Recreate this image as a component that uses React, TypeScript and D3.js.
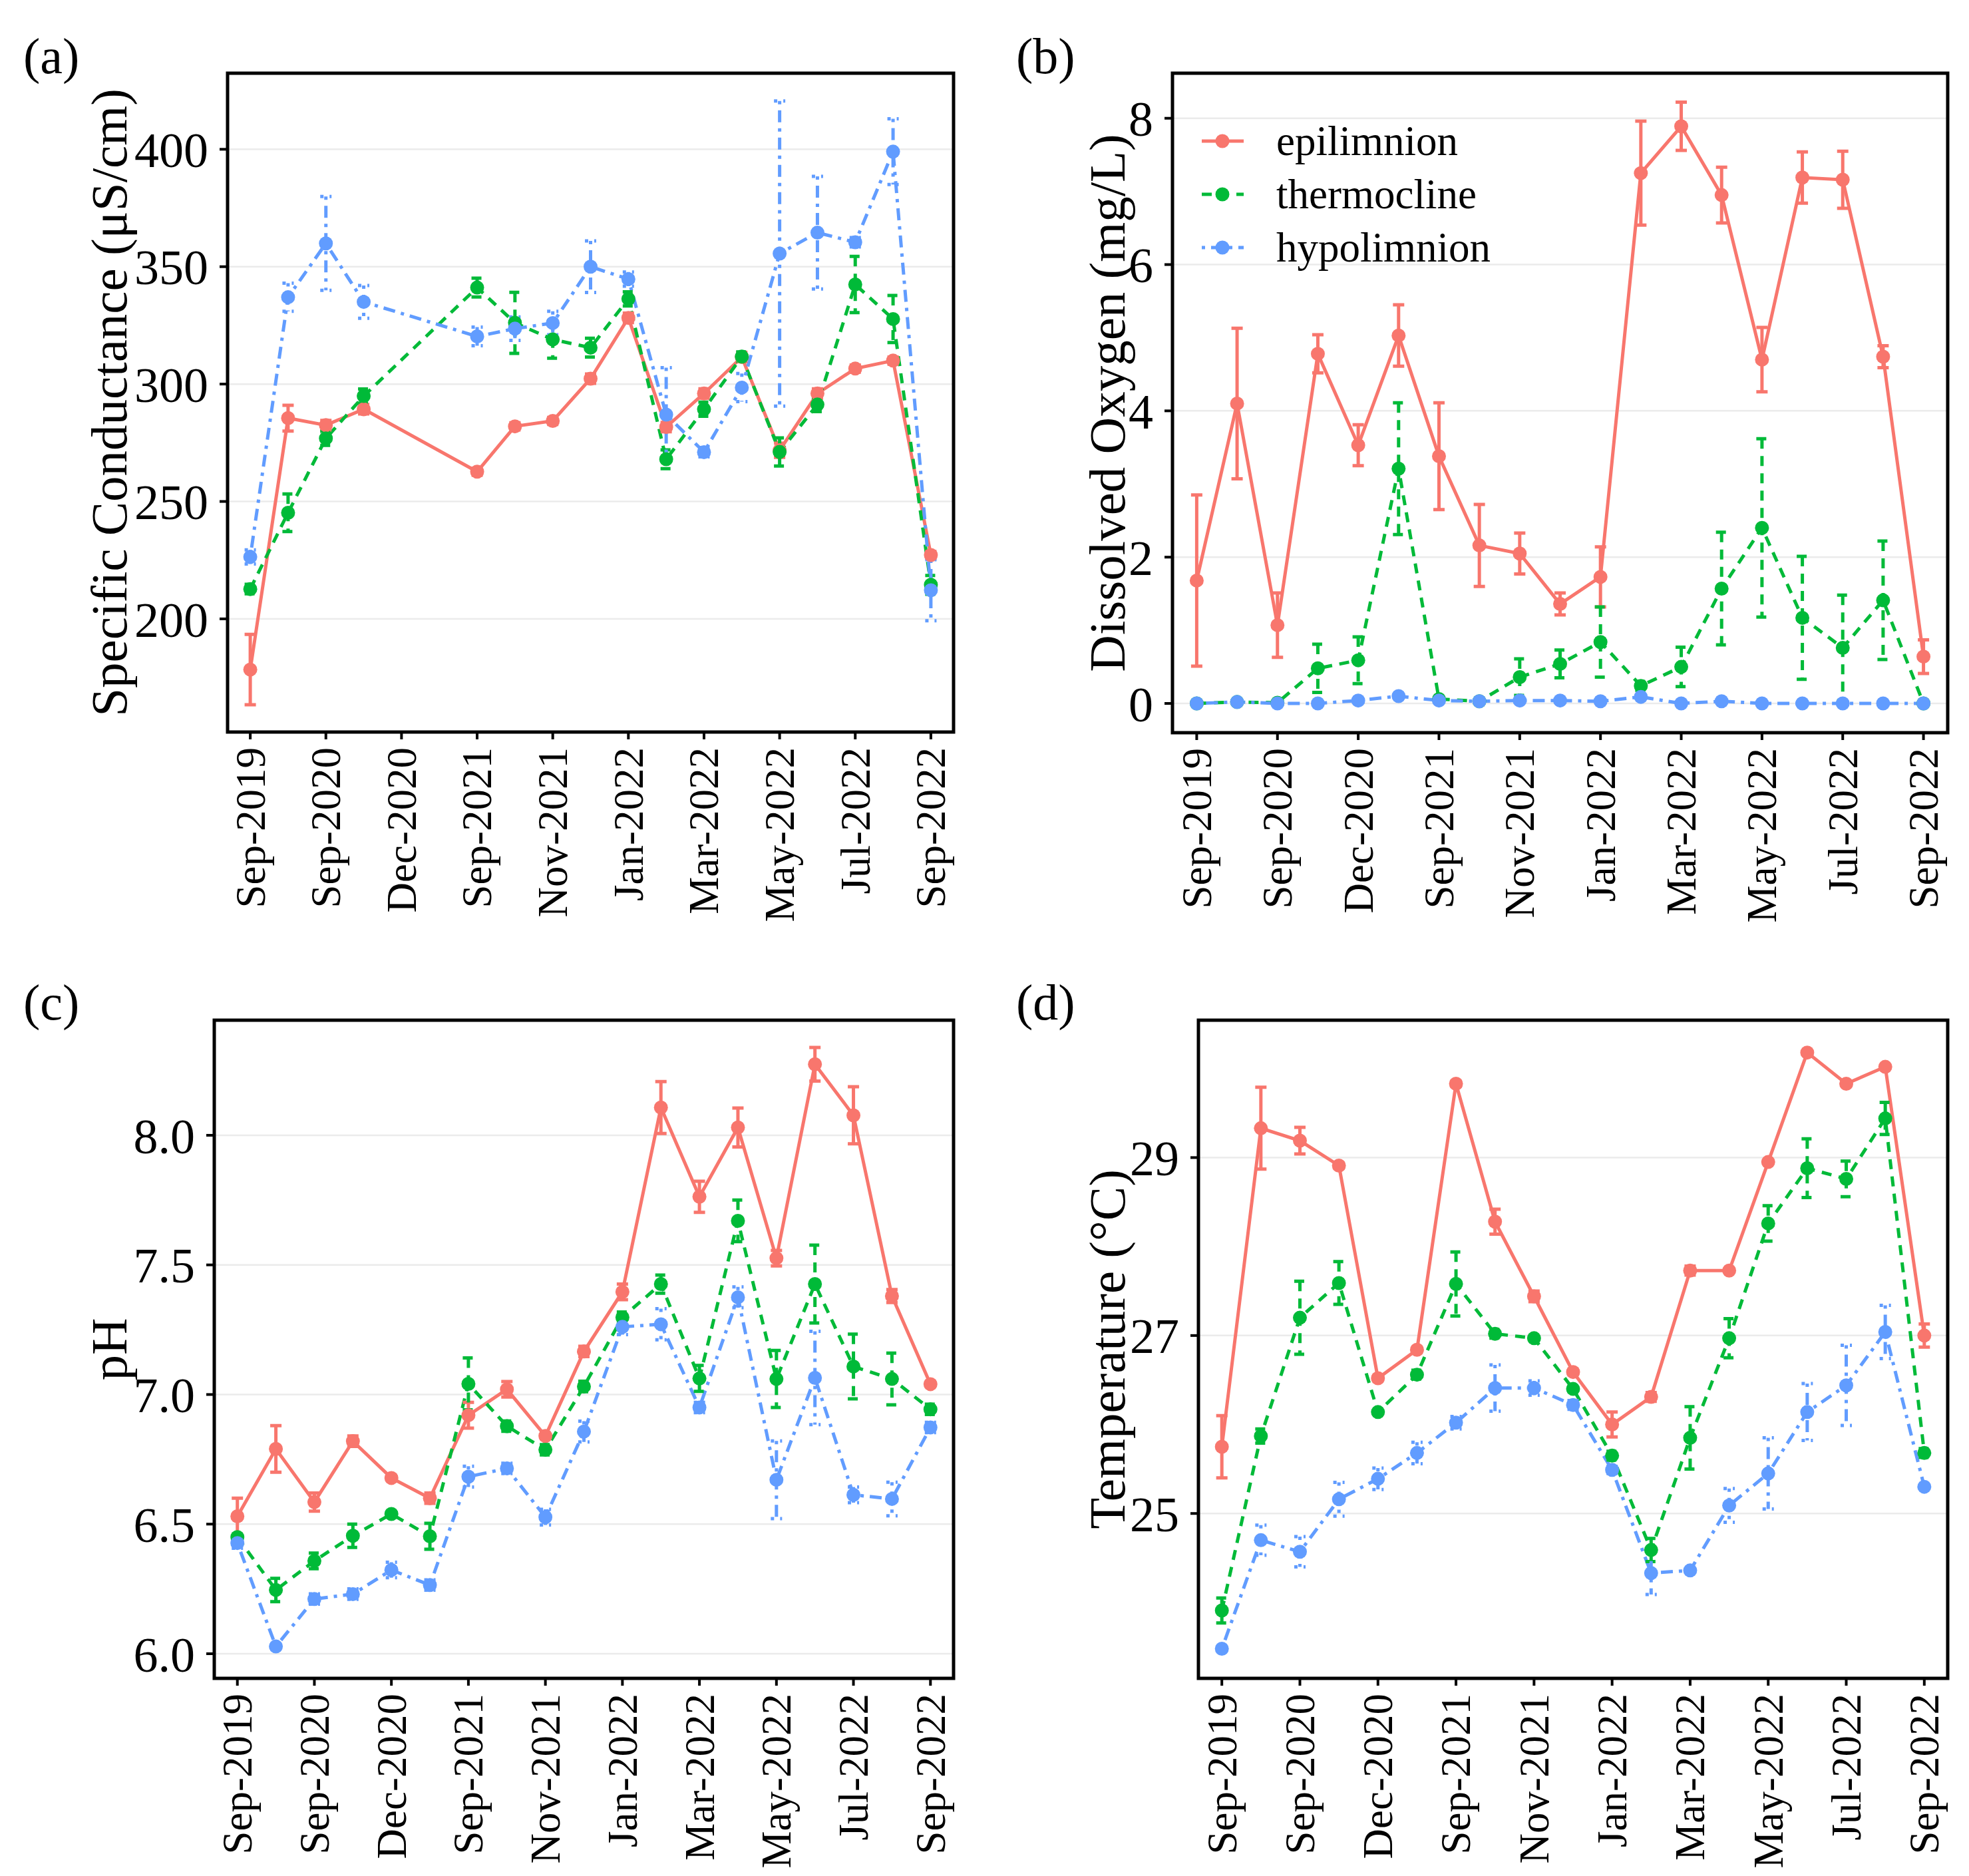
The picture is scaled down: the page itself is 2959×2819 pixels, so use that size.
import React from "react";
import * as d3 from "d3";

// ---------- categories / ticks ----------
const samplingIdx = d3.range(19);
const xTickLabels = ["Sep-2019", "Sep-2020", "Dec-2020", "Sep-2021", "Nov-2021", "Jan-2022", "Mar-2022", "May-2022", "Jul-2022", "Sep-2022"];
const xTickIdx = [0, 2, 4, 6, 8, 10, 12, 14, 16, 18];
const seriesNames = ["epilimnion", "thermocline", "hypolimnion"];
const seriesColors = ["#F8766D", "#00BA38", "#619CFF"];
const seriesDash = ["none", "15,11", "5,9,18,9"];

// ---------- (a) Specific Conductance ----------
const condEpi = [178.4, 285.5, 282.5, 289.3, null, null, 262.7, 282.0, 284.3, 302.3, 328.2, 281.7, 296.0, 311.5, 271.8, 296.0, 306.6, 310.0, 227.2];
const condEpiErr = [15, 5.5, 2, 2, null, null, 1.5, 1.5, 1.5, 2, 2, 2, 2, 2, 3, 2, 1.5, 1.5, 1.5];
const condThermo = [212.7, 245.2, 276.9, 294.9, null, null, 341.1, 326.1, 319.0, 315.5, 336.3, 268.0, 289.3, 311.7, 271.1, 291.3, 342.4, 327.7, 214.5];
const condThermoErr = [2, 8, 3, 3, null, null, 4, 13, 8, 4, 3, 4, 3, 2, 6, 3, 12, 10, 4];
const condHypo = [226.4, 337.0, 359.9, 335.0, null, null, 320.3, 323.6, 326.0, 350.0, 344.7, 287.0, 271.0, 298.5, 355.6, 364.5, 360.4, 399.0, 212.2];
const condHypoErr = [3, 6, 20, 7, null, null, 4, 5, 5, 11, 3, 20, 2, 6, 65, 24, 2, 14, 13];
const condTicks = [200, 250, 300, 350, 400];
const condDomain = [151.8, 432.4];

// ---------- (b) Dissolved Oxygen ----------
const doEpi = [1.68, 4.10, 1.07, 4.78, 3.53, 5.03, 3.38, 2.16, 2.05, 1.36, 1.73, 7.25, 7.89, 6.95, 4.70, 7.19, 7.16, 4.74, 0.64];
const doEpiErr = [1.17, 1.03, 0.44, 0.26, 0.28, 0.42, 0.73, 0.56, 0.28, 0.15, 0.41, 0.71, 0.33, 0.38, 0.44, 0.35, 0.39, 0.15, 0.23];
const doThermo = [0.0, 0.02, 0.01, 0.48, 0.59, 3.21, 0.06, 0.03, 0.36, 0.54, 0.84, 0.24, 0.50, 1.57, 2.40, 1.17, 0.76, 1.41, 0.0];
const doThermoErr = [0.01, 0.01, 0.01, 0.33, 0.32, 0.90, 0.02, 0.02, 0.25, 0.19, 0.48, 0.06, 0.27, 0.77, 1.22, 0.84, 0.72, 0.81, 0.01];
const doHypo = [0.0, 0.02, 0.0, 0.0, 0.04, 0.10, 0.04, 0.03, 0.04, 0.04, 0.03, 0.09, 0.0, 0.03, 0.0, 0.0, 0.0, 0.0, 0.0];
const doHypoErr = [0.01, 0.01, 0.01, 0.01, 0.01, 0.02, 0.01, 0.01, 0.01, 0.01, 0.01, 0.02, 0.01, 0.01, 0.01, 0.01, 0.01, 0.01, 0.01];
const doTicks = [0, 2, 4, 6, 8];
const doDomain = [-0.4, 8.616];

// ---------- (c) pH ----------
const phEpi = [6.53, 6.79, 6.585, 6.82, 6.678, 6.60, 6.92, 7.02, 6.84, 7.166, 7.396, 8.107, 7.763, 8.03, 7.526, 8.274, 8.077, 7.38, 7.04];
const phEpiErr = [0.07, 0.09, 0.035, 0.02, 0.01, 0.02, 0.05, 0.03, 0.01, 0.02, 0.03, 0.1, 0.06, 0.075, 0.03, 0.065, 0.11, 0.025, 0.01];
const phThermo = [6.45, 6.246, 6.358, 6.455, 6.539, 6.453, 7.041, 6.878, 6.787, 7.031, 7.298, 7.426, 7.062, 7.67, 7.06, 7.426, 7.108, 7.06, 6.943];
const phThermoErr = [0.01, 0.045, 0.03, 0.045, 0.01, 0.05, 0.1, 0.02, 0.02, 0.02, 0.02, 0.035, 0.05, 0.08, 0.11, 0.15, 0.125, 0.1, 0.02];
const phHypo = [6.427, 6.028, 6.211, 6.23, 6.323, 6.265, 6.683, 6.715, 6.527, 6.857, 7.261, 7.271, 6.95, 7.375, 6.671, 7.064, 6.613, 6.597, 6.873];
const phHypoErr = [0.02, 0.01, 0.02, 0.02, 0.03, 0.02, 0.04, 0.02, 0.03, 0.04, 0.03, 0.06, 0.02, 0.04, 0.15, 0.18, 0.03, 0.065, 0.02];
const phTicks = [6.0, 6.5, 7.0, 7.5, 8.0];
const phDomain = [5.905, 8.444];

// ---------- (d) Temperature ----------
const tempEpi = [25.75, 29.33, 29.19, 28.91, 26.52, 26.84, 29.83, 28.28, 27.44, 26.59, 26.0, 26.31, 27.73, 27.73, 28.95, 30.18, 29.83, 30.02, 27.0];
const tempEpiErr = [0.35, 0.46, 0.15, 0.03, 0.03, 0.03, 0.03, 0.14, 0.06, 0.03, 0.14, 0.05, 0.05, 0.02, 0.02, 0.02, 0.02, 0.02, 0.13];
const tempThermo = [23.91, 25.87, 27.2, 27.59, 26.14, 26.56, 27.58, 27.02, 26.97, 26.4, 25.65, 24.59, 25.85, 26.97, 28.26, 28.88, 28.76, 29.44, 25.68];
const tempThermoErr = [0.14, 0.08, 0.41, 0.24, 0.02, 0.05, 0.36, 0.05, 0.03, 0.03, 0.05, 0.13, 0.35, 0.22, 0.2, 0.33, 0.2, 0.18, 0.05];
const tempHypo = [23.48, 24.7, 24.57, 25.16, 25.39, 25.68, 26.02, 26.41, 26.41, 26.22, 25.49, 24.33, 24.36, 25.09, 25.45, 26.14, 26.44, 27.04, 25.3];
const tempHypoErr = [0.02, 0.17, 0.17, 0.19, 0.12, 0.12, 0.07, 0.26, 0.08, 0.05, 0.04, 0.24, 0.02, 0.19, 0.4, 0.32, 0.45, 0.3, 0.02];
const tempTicks = [25, 27, 29];
const tempDomain = [23.147, 30.544];

const FONT = "'Liberation Serif', 'Times New Roman', serif";

type PanelProps = {
  tag: string;
  yTitle: string;
  values: (number | null)[][];
  errors: (number | null)[][];
  ticks: number[];
  domain: number[];
  fmt: (v: number) => string;
  box: { left: number; right: number; top: number; bottom: number };
  tagX: number;
  tagY: number;
  titleX: number;
  legend?: boolean;
};

function Panel(p: PanelProps) {
  const { box } = p;
  const x = d3.scalePoint<number>().domain(samplingIdx).range([box.left, box.right]).padding(0.6);
  const y = d3.scaleLinear().domain(p.domain).range([box.bottom, box.top]);
  const cy = (box.top + box.bottom) / 2;
  const lineGen = d3
    .line<{ i: number; v: number }>()
    .x((d) => x(d.i) as number)
    .y((d) => y(d.v));
  const sw = 5;
  const cap = 8.5;
  const dash = (s: number) => (seriesDash[s] === "none" ? undefined : seriesDash[s]);

  const seriesPts = p.values.map((vals, s) =>
    vals
      .map((v, i) => ({ i, v: v as number, e: p.errors[s][i] as number }))
      .filter((d) => p.values[s][d.i] != null)
  );

  return (
    <g>
      <text x={p.tagX} y={p.tagY} fontSize={76} fontFamily={FONT}>{p.tag}</text>
      {p.ticks.map((t) => (
        <line key={"g" + t} x1={box.left} x2={box.right} y1={y(t)} y2={y(t)} stroke="#EBEBEB" strokeWidth={2.5} />
      ))}
      {seriesPts.map((pts, s) => (
        <path key={"l" + s} d={lineGen(pts) || ""} fill="none" stroke={seriesColors[s]} strokeWidth={sw}
          strokeDasharray={dash(s)} />
      ))}
      {seriesPts.map((pts, s) => (
        <g key={"e" + s} stroke={seriesColors[s]} strokeWidth={sw} fill="none" strokeDasharray={dash(s)}>
          {pts.map((d) => {
            const xx = x(d.i) as number;
            const y1 = y(d.v + d.e);
            const y0 = y(d.v - d.e);
            return (
              <path key={d.i} d={`M${xx - cap},${y1}H${xx + cap}M${xx},${y1}V${y0}M${xx - cap},${y0}H${xx + cap}`} />
            );
          })}
        </g>
      ))}
      {seriesPts.map((pts, s) => (
        <g key={"p" + s} fill={seriesColors[s]}>
          {pts.map((d) => (
            <circle key={d.i} cx={x(d.i) as number} cy={y(d.v)} r={10.5} />
          ))}
        </g>
      ))}
      <rect x={box.left} y={box.top} width={box.right - box.left} height={box.bottom - box.top} fill="none" stroke="#000" strokeWidth={5} />
      {p.ticks.map((t) => (
        <g key={"yt" + t}>
          <line x1={box.left - 12} x2={box.left} y1={y(t)} y2={y(t)} stroke="#000" strokeWidth={4} />
          <text x={box.left - 29} y={y(t)} dy="0.36em" textAnchor="end" fontSize={74} fontFamily={FONT} fill="#000">
            {p.fmt(t)}
          </text>
        </g>
      ))}
      {xTickIdx.map((idx, k) => {
        const xx = x(idx) as number;
        return (
          <g key={"xt" + idx}>
            <line x1={xx} x2={xx} y1={box.bottom} y2={box.bottom + 11} stroke="#000" strokeWidth={4} />
            <text transform={`translate(${xx},${box.bottom + 23}) rotate(-90)`} dy="0.34em" textAnchor="end"
              fontSize={63} fontFamily={FONT} fill="#000">
              {xTickLabels[k]}
            </text>
          </g>
        );
      })}
      <text transform={`translate(${p.titleX},${cy}) rotate(-90)`} textAnchor="middle" fontSize={77} fontFamily={FONT} fill="#000">
        {p.yTitle}
      </text>
      {p.legend && (
        <g>
          {seriesNames.map((n, s) => {
            const ry = 212 + s * 80;
            return (
              <g key={n}>
                <line x1={1806} x2={1869} y1={ry} y2={ry} stroke={seriesColors[s]} strokeWidth={sw} strokeDasharray={dash(s)} />
                <circle cx={1837} cy={ry} r={10.5} fill={seriesColors[s]} />
                <text x={1918} y={ry} dy="0.33em" fontSize={63} fontFamily={FONT} fill="#000">{n}</text>
              </g>
            );
          })}
        </g>
      )}
    </g>
  );
}

export default function App() {
  const fmt0 = (v: number) => d3.format("d")(v);
  const fmt1 = (v: number) => d3.format(".1f")(v);
  return (
    <div>
      <style>{"body{margin:0;background:#fff}"}</style>
      <svg width={2959} height={2819} viewBox="0 0 2959 2819" style={{ display: "block", background: "#fff" }}>
        <rect width={2959} height={2819} fill="#fff" />
        <Panel tag="(a)" yTitle="Specific Conductance (μS/cm)"
          values={[condEpi, condThermo, condHypo]} errors={[condEpiErr, condThermoErr, condHypoErr]}
          ticks={condTicks} domain={condDomain} fmt={fmt0}
          box={{ left: 342, right: 1433, top: 110, bottom: 1100 }} tagX={35} tagY={110} titleX={190} />
        <Panel tag="(b)" yTitle="Dissolved Oxygen (mg/L)"
          values={[doEpi, doThermo, doHypo]} errors={[doEpiErr, doThermoErr, doHypoErr]}
          ticks={doTicks} domain={doDomain} fmt={fmt0}
          box={{ left: 1762, right: 2927, top: 110, bottom: 1101 }} tagX={1527} tagY={110} titleX={1690} legend />
        <Panel tag="(c)" yTitle="pH"
          values={[phEpi, phThermo, phHypo]} errors={[phEpiErr, phThermoErr, phHypoErr]}
          ticks={phTicks} domain={phDomain} fmt={fmt1}
          box={{ left: 322, right: 1433, top: 1533, bottom: 2522 }} tagX={35} tagY={1532} titleX={190} />
        <Panel tag="(d)" yTitle="Temperature (°C)"
          values={[tempEpi, tempThermo, tempHypo]} errors={[tempEpiErr, tempThermoErr, tempHypoErr]}
          ticks={tempTicks} domain={tempDomain} fmt={fmt0}
          box={{ left: 1801, right: 2927, top: 1533, bottom: 2522 }} tagX={1527} tagY={1532} titleX={1690} />
      </svg>
    </div>
  );
}
